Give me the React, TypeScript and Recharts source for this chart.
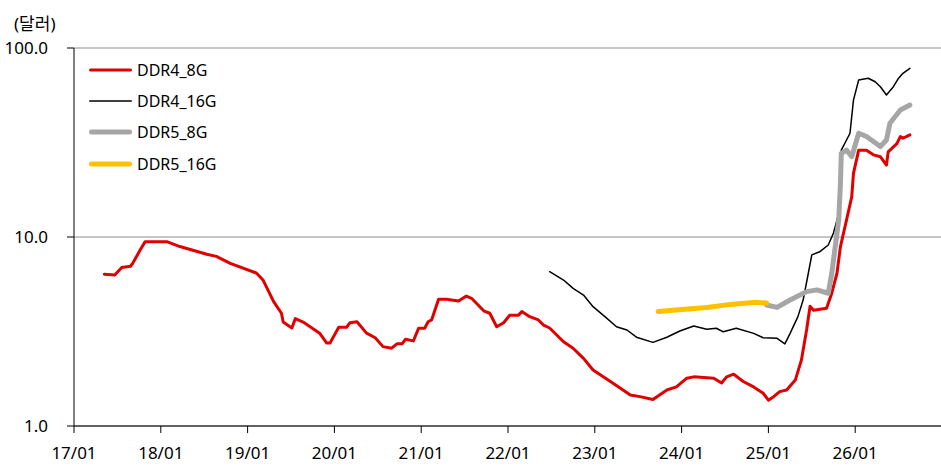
import React from 'react';
import { LineChart, Line, XAxis, YAxis, CartesianGrid, Legend } from 'recharts';

// [decimal year, price in USD]
const ddr4_8g: [number, number][] = [
  [2017.35, 6.35], [2017.47, 6.3], [2017.55, 6.9], [2017.65, 7.0], [2017.68, 7.3],
  [2017.76, 8.5], [2017.82, 9.45], [2018.07, 9.45], [2018.22, 8.9], [2018.53, 8.1],
  [2018.64, 7.9], [2018.8, 7.25], [2019.1, 6.45], [2019.18, 5.9], [2019.3, 4.55],
  [2019.39, 3.95], [2019.41, 3.55], [2019.51, 3.3], [2019.55, 3.7], [2019.64, 3.55],
  [2019.83, 3.1], [2019.91, 2.75], [2019.95, 2.75], [2019.99, 2.97], [2020.05, 3.33],
  [2020.14, 3.33], [2020.18, 3.52], [2020.26, 3.56], [2020.37, 3.1], [2020.47, 2.93],
  [2020.56, 2.63], [2020.66, 2.58], [2020.72, 2.72], [2020.78, 2.72], [2020.82, 2.88],
  [2020.91, 2.82], [2020.97, 3.29], [2021.04, 3.29], [2021.08, 3.56], [2021.12, 3.64],
  [2021.2, 4.68], [2021.29, 4.68], [2021.43, 4.58], [2021.52, 4.87], [2021.58, 4.74],
  [2021.72, 4.07], [2021.79, 3.95], [2021.87, 3.35], [2021.95, 3.52], [2022.02, 3.86],
  [2022.12, 3.86], [2022.16, 4.03], [2022.25, 3.79], [2022.35, 3.64], [2022.41, 3.42],
  [2022.48, 3.3], [2022.64, 2.79], [2022.75, 2.58], [2022.87, 2.28], [2022.98, 1.98],
  [2023.18, 1.72], [2023.41, 1.46], [2023.52, 1.43], [2023.67, 1.38], [2023.83, 1.55],
  [2023.94, 1.61], [2024.06, 1.79], [2024.14, 1.82], [2024.37, 1.79], [2024.46, 1.69],
  [2024.52, 1.82], [2024.6, 1.88], [2024.71, 1.72], [2024.83, 1.61], [2024.94, 1.49],
  [2025.0, 1.37], [2025.06, 1.43], [2025.13, 1.52], [2025.21, 1.55], [2025.31, 1.75],
  [2025.38, 2.23], [2025.44, 3.22], [2025.48, 4.3], [2025.52, 4.1], [2025.67, 4.2],
  [2025.73, 5.04], [2025.79, 6.43], [2025.83, 8.89], [2025.9, 12.3], [2025.96, 16.3],
  [2025.98, 21.7], [2026.04, 28.8], [2026.13, 28.8], [2026.21, 27.2], [2026.29, 26.6],
  [2026.36, 24.0], [2026.38, 28.2], [2026.48, 31.2], [2026.52, 34], [2026.55, 33.3],
  [2026.63, 34.7],
];

const ddr4_16g: [number, number][] = [
  [2022.48, 6.55], [2022.64, 5.92], [2022.75, 5.35], [2022.87, 4.93], [2022.98, 4.28],
  [2023.14, 3.71], [2023.25, 3.35], [2023.37, 3.22], [2023.48, 2.95], [2023.67, 2.77],
  [2023.83, 2.95], [2023.98, 3.18], [2024.14, 3.38], [2024.29, 3.25], [2024.4, 3.29],
  [2024.48, 3.15], [2024.63, 3.29], [2024.83, 3.09], [2024.94, 2.93], [2025.1, 2.91],
  [2025.19, 2.72], [2025.25, 3.09], [2025.34, 3.79], [2025.4, 4.64], [2025.46, 6.43],
  [2025.5, 8.04], [2025.59, 8.35], [2025.69, 9.07], [2025.75, 10.5], [2025.81, 13.3],
  [2025.84, 28.8], [2025.9, 32.6], [2025.94, 35.4], [2025.98, 53], [2026.04, 67.7],
  [2026.15, 69.2], [2026.23, 66.3], [2026.29, 62.4], [2026.36, 56.4], [2026.44, 62.4],
  [2026.5, 69.2], [2026.55, 73.5], [2026.63, 78.1],
];

const ddr5_8g: [number, number][] = [
  [2024.98, 4.37], [2025.1, 4.24], [2025.25, 4.64], [2025.44, 5.14], [2025.56, 5.25],
  [2025.69, 5.04], [2025.73, 6.43], [2025.77, 8.89], [2025.81, 12.3], [2025.83, 19.2],
  [2025.84, 27.7], [2025.9, 28.8], [2025.96, 26.6], [2026.04, 35.4], [2026.13, 34.0],
  [2026.29, 30.1], [2026.36, 32.6], [2026.4, 40], [2026.52, 47], [2026.63, 49.9],
];

const ddr5_16g: [number, number][] = [
  [2023.73, 4.03], [2023.9, 4.1], [2024.29, 4.24], [2024.56, 4.4], [2024.86, 4.51],
  [2024.98, 4.47],
];

const yearTicks = [2017, 2018, 2019, 2020, 2021, 2022, 2023, 2024, 2025, 2026];
const priceTicks = [1, 10, 100];

const series = [
  { name: 'DDR4_8G', points: ddr4_8g, color: '#E00000', width: 3 },
  { name: 'DDR4_16G', points: ddr4_16g, color: '#000000', width: 1.5 },
  { name: 'DDR5_8G', points: ddr5_8g, color: '#A6A6A6', width: 5 },
  { name: 'DDR5_16G', points: ddr5_16g, color: '#FFC000', width: 5 },
];

const FONT = "'Noto Sans', 'Noto Sans CJK KR', sans-serif";

const toRows = (pts: [number, number][]) => pts.map(([t, v]) => ({ t, v }));

const renderLegend = () => (
  <div style={{ fontFamily: FONT, fontSize: 16, color: '#000' }}>
    {series.map((s) => (
      <div key={s.name} style={{ display: 'flex', alignItems: 'center', height: 31.3 }}>
        <svg width={46} height={10} style={{ marginRight: 3 }}>
          <line
            x1={s.width / 2 + 1}
            x2={44 - s.width / 2}
            y1={5}
            y2={5}
            stroke={s.color}
            strokeWidth={s.width}
            strokeLinecap="round"
          />
        </svg>
        <span>{s.name}</span>
      </div>
    ))}
  </div>
);

export default function App() {
  return (
    <div
      style={{
        position: 'absolute',
        left: 0,
        top: 0,
        width: 941,
        height: 475,
        overflow: 'hidden',
        background: '#fff',
        fontFamily: FONT,
      }}
    >
      <div style={{ position: 'absolute', left: 14, top: 14, fontSize: 17, lineHeight: '20px', color: '#000' }}>
        (달러)
      </div>
      <LineChart width={950} height={475} margin={{ top: 48, right: 8, bottom: 0, left: 0 }}>
        <CartesianGrid horizontal vertical={false} stroke="#8C8C8C" />
        <XAxis
          dataKey="t"
          type="number"
          domain={[2017, 2027]}
          ticks={yearTicks}
          tickFormatter={(y: number) => `${String(y).slice(2)}/01`}
          allowDataOverflow
          height={49}
          stroke="#000"
          tickSize={7}
          tickMargin={14}
          tick={{ fill: '#000', fontSize: 17, fontFamily: FONT }}
          interval={0}
        />
        <YAxis
          scale="log"
          domain={[1, 100]}
          ticks={priceTicks}
          tickFormatter={(v: number) => v.toFixed(1)}
          allowDataOverflow
          width={74}
          stroke="#000"
          tickSize={7}
          tickMargin={19}
          tick={{ fill: '#000', fontSize: 17, fontFamily: FONT }}
          interval={0}
        />
        <Legend
          content={renderLegend}
          layout="vertical"
          align="center"
          verticalAlign="middle"
          wrapperStyle={{ left: 88, top: 54, width: 200 }}
        />
        {series.map((s) => (
          <Line
            key={s.name}
            data={toRows(s.points)}
            dataKey="v"
            name={s.name}
            type="linear"
            stroke={s.color}
            strokeWidth={s.width}
            strokeLinejoin="round"
            strokeLinecap="round"
            dot={false}
            activeDot={false}
            isAnimationActive={false}
          />
        ))}
      </LineChart>
    </div>
  );
}
